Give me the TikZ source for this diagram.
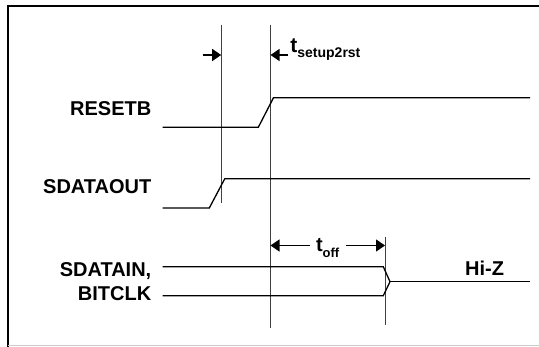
\documentclass[tikz,border=0pt]{standalone}
\usepackage{fontspec}
\setmainfont{Liberation Sans}
\usetikzlibrary{arrows.meta}
\begin{document}
\begin{tikzpicture}[x=1pt,y=-1pt,
  sig/.style={line width=1.3pt,line join=miter},
  guide/.style={line width=0.8pt,draw=black!75},
  lbl/.style={inner sep=0pt,font=\fontsize{20}{22}\selectfont\bfseries},
  dim/.style={line width=1.3pt,-{Triangle[length=9pt,width=12pt]}}]
\useasboundingbox (0,0) rectangle (539,347);
\fill[white] (0,0) rectangle (539,347);
% frame
\draw[line width=1.4pt] (8,347) -- (8,6) -- (539,6);
\draw[black!20,line width=1pt] (8,345.5) -- (539,345.5);
% guide lines
\coordinate (g1t) at (221.7,25);
\coordinate (g1b) at (221.7,203);
\coordinate (g2t) at (270,25);
\coordinate (g2b) at (270,328);
\coordinate (g3t) at (385.5,237);
\coordinate (g3b) at (385.5,325);
\draw[guide] (g1t) -- (g1b);
\draw[guide] (g2t) -- (g2b);
\draw[guide] (g3t) -- (g3b);
% labels
\node[lbl,anchor=base east] (resetb) at (151.5,116) {RESETB};
\node[lbl,anchor=base east] (sdataout) at (151.5,193.3) {SDATAOUT};
\node[lbl,anchor=base east] (sdatain) at (151.5,276.7) {SDATAIN,};
\node[lbl,anchor=base east] (bitclk) at (151.5,300.7) {BITCLK};
\node[lbl,anchor=base west] (hiz) at (465,275.7) {Hi-Z};
% signals
\coordinate (r0) at (162.5,127.3);
\coordinate (r1) at (258.3,127.3);
\coordinate (r2) at (273.5,97.7);
\coordinate (r3) at (530,97.7);
\draw[sig] (r0) -- (r1) -- (r2) -- (r3);
\coordinate (s0) at (162.5,208);
\coordinate (s1) at (209.3,208);
\coordinate (s2) at (224.8,178.7);
\coordinate (s3) at (530,178.7);
\draw[sig] (s0) -- (s1) -- (s2) -- (s3);
\coordinate (a0) at (162.5,266.7);
\coordinate (a1) at (383.3,266.7);
\coordinate (m) at (390,281.7);
\coordinate (b0) at (162.5,295.7);
\coordinate (b1) at (383.3,295.7);
\coordinate (z1) at (530,281.7);
\draw[sig] (a0) -- (a1) -- (m) -- (b1) -- (b0);
\draw[sig] (m) -- (z1);
% setup arrows
\coordinate (d1) at (202.7,55);
\coordinate (d1e) at (221.2,55);
\coordinate (d2) at (288.3,55);
\coordinate (d2e) at (270.5,55);
\draw[dim] (d1) -- (d1e);
\draw[dim] (d2) -- (d2e);
\node[inner sep=0pt,anchor=base west] (tsetup) at (290.2,52.3)
  {\fontsize{21}{22}\selectfont\bfseries t\raisebox{-5pt}{\fontsize{14}{15}\selectfont setup2rst}};
% toff arrows
\coordinate (o1) at (310,245.5);
\coordinate (o1e) at (270.5,245.5);
\coordinate (o2) at (346,245.5);
\coordinate (o2e) at (385,245.5);
\draw[dim] (o1) -- (o1e);
\draw[dim] (o2) -- (o2e);
\node[inner sep=0pt,anchor=base west] (toff) at (315.8,251.7)
  {\fontsize{20}{22}\selectfont\bfseries t\raisebox{-5.6pt}{\fontsize{13}{14}\selectfont off}};
\end{tikzpicture}
\end{document}
